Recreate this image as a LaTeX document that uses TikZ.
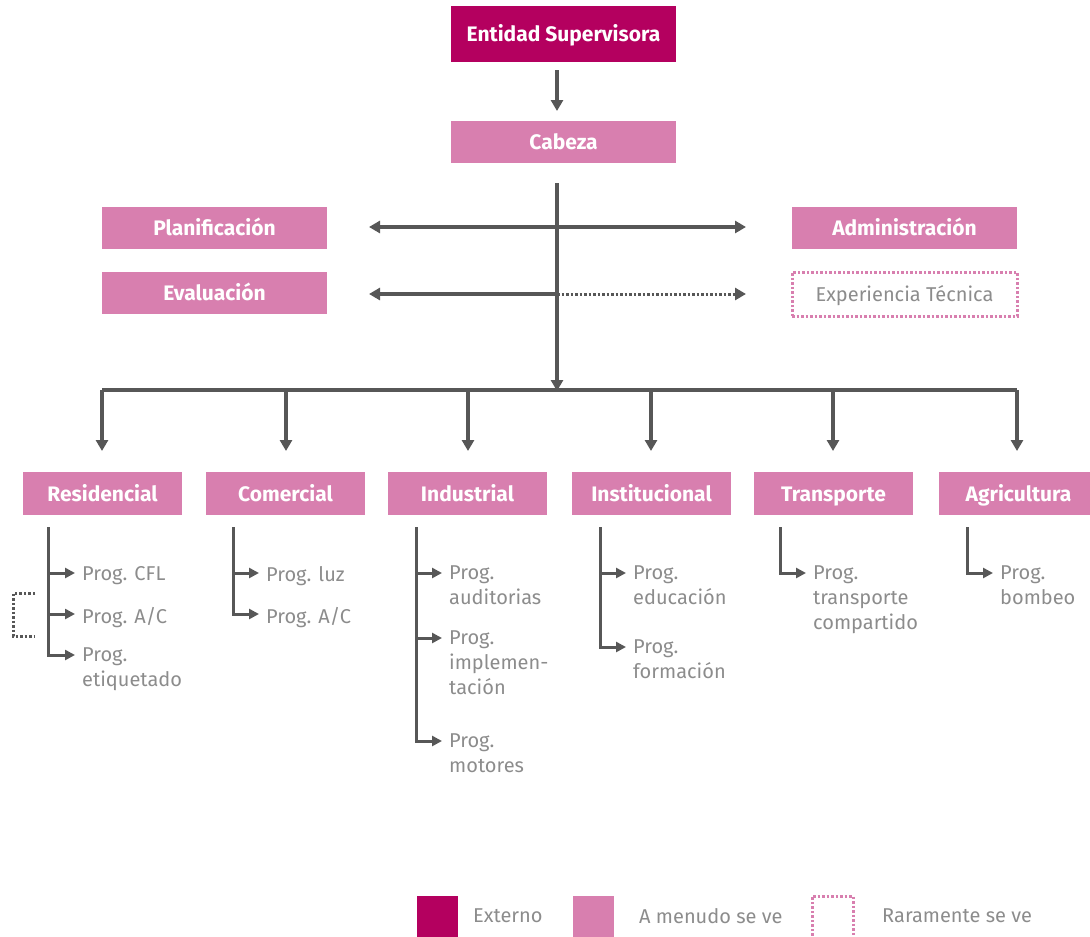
\documentclass[tikz,border=0pt]{standalone}
\usepackage{fontspec}
\setmainfont{Fira Sans}
\usetikzlibrary{arrows.meta}
\definecolor{externo}{HTML}{B4005F}
\definecolor{menudo}{HTML}{D87FAF}
\definecolor{linea}{HTML}{575757}
\definecolor{texto}{HTML}{8C8C8C}

\begin{document}
\begin{tikzpicture}[x=1pt,y=-1pt,
  caja/.style={minimum height=42pt, inner sep=0pt, text=white, text height=15pt, text depth=0pt, font=\fontsize{21}{24}\selectfont\bfseries},
  grande/.style={caja, minimum width=225pt},
  sector/.style={caja, fill=menudo, minimum width=159pt, minimum height=43pt},
  prog/.style={anchor=north west, inner sep=0pt, align=left, text=texto, font=\fontsize{20}{25}\selectfont},
  flecha/.style={draw=linea, line width=3.5pt, -{Triangle[length=11pt,width=12pt]}},
  rama/.style={draw=linea, line width=3pt, -{Triangle[length=10pt,width=10pt]}},
  raro/.style={draw=menudo, line width=3pt, dash pattern=on 2.5pt off 2pt},
  leyenda/.style={anchor=west, inner sep=0pt, text=texto, font=\fontsize{20}{24}\selectfont}]

\useasboundingbox (0,0) rectangle (1090,937);

% cabecera
\node[grande, fill=externo, minimum height=56pt] (ent) at (563.5,34) {Entidad Supervisora};
\node[grande, fill=menudo] (cab) at (563.5,142) {Cabeza};
\node[grande, fill=menudo] (plan) at (214.5,228) {Planificación};
\node[grande, fill=menudo] (adm) at (904.5,228) {Administración};
\node[grande, fill=menudo] (eva) at (214.5,293) {Evaluación};
\node[grande, raro, minimum height=44pt, text=texto, font=\fontsize{20}{24}\selectfont] (exp) at (904.5,294) {Experiencia Técnica};

\coordinate (e1) at (557,70);
\coordinate (e2) at (557,111);
\draw[flecha] (e1) -- (e2);

% tronco
\coordinate (t0) at (557,183);
\coordinate (t1) at (557,391);
\draw[flecha] (t0) -- (t1);
\coordinate (hp) at (557,227);
\coordinate (pl) at (369,227);
\coordinate (ad) at (746,227);
\draw[flecha] (hp) -- (pl);
\draw[flecha] (hp) -- (ad);
\coordinate (he) at (557,294);
\coordinate (ev) at (369,294);
\coordinate (ex) at (746,294);
\draw[flecha] (he) -- (ev);
\draw[flecha, line width=3pt, dash pattern=on 2.5pt off 2pt] (he) -- (ex);

% barra
\coordinate (b1) at (102,390);
\coordinate (b2) at (286,390);
\coordinate (b3) at (468,390);
\coordinate (b4) at (651,390);
\coordinate (b5) at (833,390);
\coordinate (b6) at (1017,390);
\draw[linea, line width=3.5pt] (b1) -- (b6);
\draw[flecha] (b1) -- (102,451);
\draw[flecha] (b2) -- (286,451);
\draw[flecha] (b3) -- (468,451);
\draw[flecha] (b4) -- (651,451);
\draw[flecha] (b5) -- (833,451);
\draw[flecha] (b6) -- (1017,451);

% sectores
\node[sector] (res) at (102.5,493.5) {Residencial};
\node[sector] (com) at (285.5,493.5) {Comercial};
\node[sector] (ind) at (467.5,493.5) {Industrial};
\node[sector] (ins) at (651.5,493.5) {Institucional};
\node[sector] (tra) at (833.5,493.5) {Transporte};
\node[sector] (agr) at (1018.5,493.5) {Agricultura};

% residencial
\coordinate (r0) at (48,527);
\coordinate (r1) at (75,573);
\coordinate (r2) at (75,614);
\coordinate (r3) at (75,655);
\draw[rama] (r0) |- (r3);
\draw[rama] (r1 -| r0) -- (r1);
\draw[rama] (r2 -| r0) -- (r2);
\node[prog] (cfl) at (82,566) {Prog. CFL};
\node[prog] (rac) at (82,607) {Prog. A/C};
\node[prog] (eti) at (82,648) {Prog.\\etiquetado};
\draw[linea, line width=3pt, dash pattern=on 2.5pt off 2pt] (35,593) -- (13,593) -- (13,636) -- (35,636);

% comercial
\coordinate (c0) at (233,527);
\coordinate (c1) at (259,573);
\coordinate (c2) at (259,614);
\draw[rama] (c0) |- (c2);
\draw[rama] (c1 -| c0) -- (c1);
\node[prog] (luz) at (266,566) {Prog. luz};
\node[prog] (cac) at (266,607) {Prog. A/C};

% industrial
\coordinate (i0) at (416,527);
\coordinate (i1) at (442,573);
\coordinate (i2) at (442,638);
\coordinate (i3) at (442,741);
\draw[rama] (i0) |- (i3);
\draw[rama] (i1 -| i0) -- (i1);
\draw[rama] (i2 -| i0) -- (i2);
\node[prog] (aud) at (449,566) {Prog.\\auditorias};
\node[prog] (imp) at (449,631) {Prog.\\implemen-\\tación};
\node[prog] (mot) at (449,734) {Prog.\\motores};

% institucional
\coordinate (n0) at (600,527);
\coordinate (n1) at (626,573);
\coordinate (n2) at (626,647);
\draw[rama] (n0) |- (n2);
\draw[rama] (n1 -| n0) -- (n1);
\node[prog] (edu) at (633,566) {Prog.\\educación};
\node[prog] (for) at (633,640) {Prog.\\formación};

% transporte
\coordinate (p0) at (780,527);
\coordinate (p1) at (806,573);
\draw[rama] (p0) |- (p1);
\node[prog] (tcp) at (813,566) {Prog.\\transporte\\compartido};

% agricultura
\coordinate (a0) at (967,527);
\coordinate (a1) at (993,573);
\draw[rama] (a0) |- (a1);
\node[prog] (bom) at (1000,566) {Prog.\\bombeo};

% leyenda
\node[fill=externo, minimum size=41pt, inner sep=0pt] (lext) at (437.5,916.5) {};
\node[leyenda] (text1) at (473,916) {Externo};
\node[fill=menudo, minimum size=41pt, inner sep=0pt] (lmen) at (593.5,916.5) {};
\node[leyenda] (text2) at (639,916) {A menudo se ve};
\draw[raro] (812,940) -- (812,896) -- (853,896) -- (853,940);
\node[leyenda] (text3) at (882,916) {Raramente se ve};
\end{tikzpicture}
\end{document}
